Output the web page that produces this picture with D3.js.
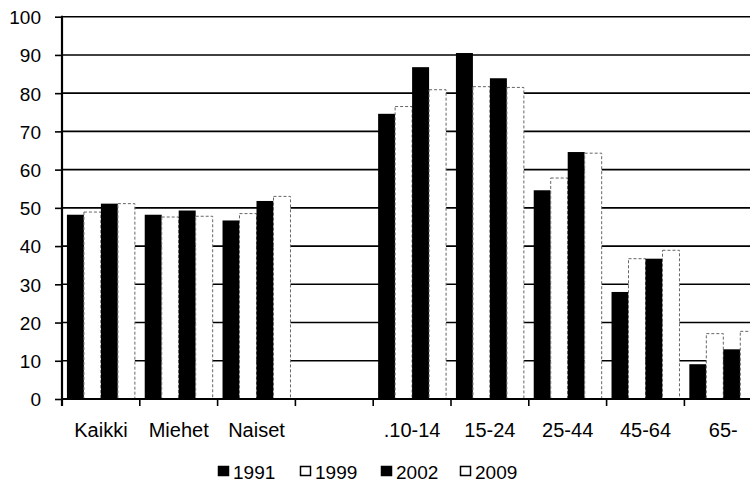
<!DOCTYPE html>
<html>
<head>
<meta charset="utf-8">
<script src="https://cdn.jsdelivr.net/npm/d3@7"></script>
<style>
  body { margin: 0; background: #fff; }
  svg { display: block; overflow: hidden; }
  text { font-family: "Liberation Sans", Arial, sans-serif; fill: #000; }
</style>
</head>
<body>
<div id="chart"></div>
<script>
// data
let categories = ['Kaikki', 'Miehet', 'Naiset', '', '.10-14', '15-24', '25-44', '45-64', '65-'];
let years = ['1991', '1999', '2002', '2009'];
let v1991 = [48.2, 48.2, 46.7, null, 74.6, 90.5, 54.6, 28.0, 9.1];
let v1999 = [48.9, 47.6, 48.5, null, 76.5, 81.7, 57.8, 36.7, 17.1];
let v2002 = [51.1, 49.3, 51.8, null, 86.8, 83.9, 64.6, 36.7, 13.0];
let v2009 = [51.1, 47.8, 53.0, null, 80.9, 81.5, 64.3, 38.9, 17.7];
let yTicks = [0, 10, 20, 30, 40, 50, 60, 70, 80, 90, 100];

let seriesValues = [v1991, v1999, v2002, v2009];
let fills = ['#000', '#fff', '#000', '#fff'];

let createView = function(){
    let W = 750, H = 484;
    let left = 62, top = 16.7, bottom = 399;
    let step = 77.8;

    let svg = d3.select('#chart').append('svg')
        .attr('width', W)
        .attr('height', H);

    let x = d3.scaleBand()
        .domain(categories)
        .range([left, left + step * categories.length])
        .padding(0);

    let xInner = d3.scaleBand()
        .domain(years)
        .range([0, x.bandwidth()])
        .paddingInner(0)
        .paddingOuter(0.29);

    let y = d3.scaleLinear()
        .domain([0, 100])
        .range([bottom, top]);

    // gridlines
    svg.append('g')
        .selectAll('line')
        .data(yTicks.filter(t => t > 0))
        .enter().append('line')
        .attr('x1', left)
        .attr('x2', left + step * categories.length)
        .attr('y1', d => y(d))
        .attr('y2', d => y(d))
        .attr('stroke', '#000')
        .attr('stroke-width', 1.6);

    // bars
    let rows = [];
    categories.forEach((c, i) => {
        years.forEach((yr, j) => {
            let v = seriesValues[j][i];
            if (v != null) rows.push({ cat: c, year: yr, value: v, fill: fills[j] });
        });
    });

    svg.append('g')
        .selectAll('rect')
        .data(rows)
        .enter().append('rect')
        .attr('x', d => x(d.cat) + xInner(d.year))
        .attr('width', xInner.bandwidth())
        .attr('y', d => y(d.value))
        .attr('height', d => y(0) - y(d.value))
        .attr('fill', d => d.fill)
        .attr('stroke', d => d.fill === '#000' ? 'none' : '#666')
        .attr('stroke-width', 1)
        .attr('stroke-dasharray', '3,2');

    // y axis
    let yAxis = d3.axisLeft(y)
        .tickValues(yTicks)
        .tickSize(7)
        .tickPadding(14);

    let yg = svg.append('g')
        .attr('transform', `translate(${left},0)`)
        .call(yAxis);
    yg.select('.domain').remove();
    yg.selectAll('.tick line').attr('stroke', '#000').attr('stroke-width', 1.6);
    yg.selectAll('.tick text')
        .style('font-size', '19px')
        .attr('dy', '0.36em');

    // zero line and axis line
    svg.append('line')
        .attr('x1', left).attr('x2', left + step * categories.length)
        .attr('y1', y(0)).attr('y2', y(0))
        .attr('stroke', '#000').attr('stroke-width', 1.8);
    svg.append('line')
        .attr('x1', left).attr('x2', left)
        .attr('y1', y(100) - 1).attr('y2', y(0) + 7)
        .attr('stroke', '#000').attr('stroke-width', 2.2);

    // x boundary ticks
    svg.append('g')
        .selectAll('line')
        .data(categories.slice(1))
        .enter().append('line')
        .attr('x1', d => x(d)).attr('x2', d => x(d))
        .attr('y1', y(0)).attr('y2', y(0) + 7)
        .attr('stroke', '#000').attr('stroke-width', 1.6);

    // category labels
    let xAxis = d3.axisBottom(x).tickSize(0).tickPadding(24);
    let xg = svg.append('g')
        .attr('transform', `translate(0,${bottom})`)
        .call(xAxis);
    xg.select('.domain').remove();
    xg.selectAll('.tick text').style('font-size', '20px');

    // legend
    let legendX = [218, 300, 381, 460];
    let legend = svg.append('g')
        .selectAll('g')
        .data(years)
        .enter().append('g')
        .attr('transform', (d, i) => `translate(${legendX[i]},466)`);
    legend.append('rect')
        .attr('x', 0.5).attr('y', 0.5)
        .attr('width', 10).attr('height', 9)
        .attr('fill', (d, i) => fills[i])
        .attr('stroke', '#000')
        .attr('stroke-width', 1.5);
    legend.append('text')
        .attr('x', 15)
        .attr('y', 13)
        .style('font-size', '19px')
        .text(d => d);
}

createView();
</script>
</body>
</html>
